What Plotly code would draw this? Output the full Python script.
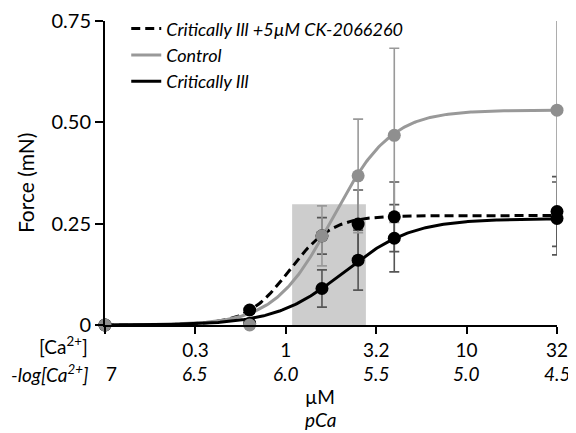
import numpy as np
import plotly.graph_objects as go

# ---- data ----
pca = [7.0, 6.2, 5.8, 5.6, 5.4, 4.5]

control = [0.0, 0.0, 0.22, 0.368, 0.468, 0.53]
control_err = [0, 0, 0.074, 0.14, 0.215, 0.26]

ck = [0.0, 0.037, 0.22, 0.249, 0.267, 0.28]
ck_err = [0, 0, 0.045, 0.084, 0.086, 0.086]

ci = [0.0, 0.004, 0.09, 0.16, 0.214, 0.263]
ci_err = [0, 0, 0.046, 0.074, 0.083, 0.09]

# Hill-fit parameters (Fmax, pCa50, nH) estimated from the drawn curves
fit_control = (0.53, 5.74, 2.7)
fit_ck = (0.27, 5.98, 3.7)
fit_ci = (0.262, 5.678, 2.3)

# shaded region (pCa bounds, force top)
rect_pca = [5.965, 5.557]
rect_top = 0.298

# axis ticks
tick_pca = [7.0, 6.5, 6.0, 5.5, 5.0, 4.5]
tick_um = ["", "0.3", "1", "3.2", "10", "32"]
tick_pca_text = ["7", "<i>6.5</i>", "<i>6.0</i>", "<i>5.5</i>", "<i>5.0</i>", "<i>4.5</i>"]
ytick_vals = [0, 0.25, 0.5, 0.75]
ytick_text = ["0", "0.25", "0.50", "0.75"]

names = ["Critically Ill +5µM CK-2066260", "Control", "Critically Ill"]

FONT = "Lato"
GRAY = "#999999"
GRAY_M = "#8f8f8f"
BLACK = "#000000"


def hill(x, fmax, p50, n):
    x = np.asarray(x)
    return fmax / (1.0 + 10 ** (n * (x - p50)))


xfit = np.linspace(7.0, 4.5, 300)

fig = go.Figure()

# shaded box
fig.add_trace(go.Scatter(
    x=[rect_pca[0], rect_pca[0], rect_pca[1], rect_pca[1], rect_pca[0]],
    y=[0, rect_top, rect_top, 0, 0],
    fill="toself", fillcolor="#cdcdcd", line=dict(width=0),
    mode="lines", hoverinfo="skip", showlegend=False))

# error bars (clipped to plot area)
for vals, errs, col in [(ck, ck_err, "#555555"), (ci, ci_err, "#555555"),
                        (control, control_err, GRAY)]:
    fig.add_trace(go.Scatter(
        x=pca, y=vals, mode="markers",
        marker=dict(size=1, color="rgba(0,0,0,0)"),
        error_y=dict(type="data", array=errs, visible=True, color=col,
                     thickness=1.6, width=5),
        cliponaxis=True, showlegend=False, hoverinfo="skip"))

# fitted curves (legend entries)
fig.add_trace(go.Scatter(
    x=xfit, y=hill(xfit, *fit_ck), mode="lines", name=names[0],
    line=dict(color=BLACK, width=3, dash="9px,5px"), cliponaxis=False))
fig.add_trace(go.Scatter(
    x=xfit, y=hill(xfit, *fit_control), mode="lines", name=names[1],
    line=dict(color=GRAY, width=3), cliponaxis=False))
fig.add_trace(go.Scatter(
    x=xfit, y=hill(xfit, *fit_ci), mode="lines", name=names[2],
    line=dict(color=BLACK, width=3), cliponaxis=False))

# data points
for vals, col in [(ck, BLACK), (ci, BLACK), (control, GRAY_M)]:
    fig.add_trace(go.Scatter(
        x=pca, y=vals, mode="markers",
        marker=dict(size=13, color=col),
        cliponaxis=False, showlegend=False))

annotations = []
# pCa row
for p, t in zip(tick_pca, tick_pca_text):
    annotations.append(dict(
        x=p, xref="x", y=-0.158, yref="paper", text=t, showarrow=False,
        xanchor="center", yanchor="middle", xshift=6 if p == 7.0 else 0,
        font=dict(family=FONT, size=19, color="black")))
# row labels
annotations.append(dict(
    x=-0.033, xref="paper", y=-0.066, yref="paper",
    text="[Ca<sup>2+</sup>]", showarrow=False, xanchor="right", yanchor="middle",
    font=dict(family=FONT, size=19, color="black")))
annotations.append(dict(
    x=-0.033, xref="paper", y=-0.158, yref="paper",
    text="<i>-log[Ca<sup>2+</sup>]</i>", showarrow=False, xanchor="right",
    yanchor="middle", font=dict(family=FONT, size=19, color="black")))
# axis titles
annotations.append(dict(
    x=0.476, xref="paper", y=-0.236, yref="paper", text="µM", showarrow=False,
    xanchor="center", yanchor="middle",
    font=dict(family=FONT, size=19, color="black")))
annotations.append(dict(
    x=0.476, xref="paper", y=-0.31, yref="paper", text="<i>pCa</i>",
    showarrow=False, xanchor="center", yanchor="middle",
    font=dict(family=FONT, size=19, color="black")))
annotations.append(dict(
    x=-0.177, xref="paper", y=0.47, yref="paper", text="Force (mN)",
    showarrow=False, textangle=-90, xanchor="center", yanchor="middle",
    font=dict(family=FONT, size=21, color="black")))

# page body adds an 8px offset; figure is sized to fit the 576x433 window
fig.update_layout(
    width=568, height=425,
    margin=dict(l=97, r=19, t=13, b=108, autoexpand=False),
    plot_bgcolor="white", paper_bgcolor="white",
    font=dict(family=FONT, size=19, color="black"),
    showlegend=True,
    legend=dict(x=0.047, y=1.035, xanchor="left", yanchor="top",
                bgcolor="rgba(0,0,0,0)", tracegroupgap=0,
                font=dict(family=FONT, size=18, style="italic", color="black"),
                itemwidth=30),
    annotations=annotations,
    xaxis=dict(range=[7.0, 4.5], showgrid=False, zeroline=False,
               showline=True, linecolor="black", linewidth=2,
               ticks="outside", ticklen=7, tickwidth=2, tickcolor="black",
               tickvals=tick_pca, ticktext=tick_um, automargin=False,
               ticklabeloverflow="allow",
               tickfont=dict(family=FONT, size=19, color="black")),
    yaxis=dict(range=[0, 0.7501], showgrid=False, zeroline=False,
               showline=True, linecolor="black", linewidth=2,
               ticks="outside", ticklen=8, tickwidth=2, tickcolor="black",
               tickvals=ytick_vals, ticktext=ytick_text, automargin=False,
               ticklabeloverflow="allow",
               tickfont=dict(family=FONT, size=20, color="black")),
)

fig.write_html("out.html")
